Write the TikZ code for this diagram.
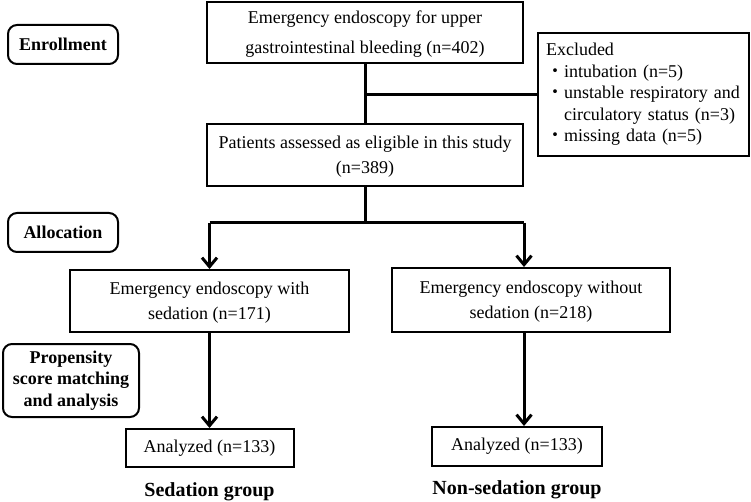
\documentclass[tikz,border=0pt]{standalone}
\usepackage{fontspec}
\setmainfont{Liberation Serif}
\newfontfamily\cjk{Noto Sans CJK JP}
\usepackage{tikz}
\usetikzlibrary{arrows.meta,calc,positioning}
\tikzset{
  >={Straight Barb[length=9pt,width=15pt]},
  stepbox/.style={rectangle, draw=black, line width=2pt, inner sep=0pt, align=center,
                  font=\fontsize{18}{25}\selectfont},
  lowtext/.style={text depth=-2pt},
  phasebox/.style={rectangle, rounded corners=9pt, draw=black, line width=2pt, inner sep=0pt,
                   align=center, font=\fontsize{18}{21.5}\selectfont\bfseries},
  grouplabel/.style={font=\fontsize{20}{24}\selectfont\bfseries},
  line/.style={draw, line width=3pt},
  arrowline/.style={draw, line width=3pt, ->}
}
\newcommand{\bul}{{\cjk ・}}
\newcommand{\bulgap}{\phantom{\bul}}

\begin{document}
\begin{tikzpicture}[x=1pt,y=-1pt]
      \useasboundingbox (0,0) rectangle (751,502);

      % Draw phase labels on the left.
      \node[phasebox, minimum width=110pt, minimum height=39pt] (enroll) at (63,44.5) {Enrollment};
      \node[phasebox, minimum width=110pt, minimum height=39pt] (alloc) at (63,232.5) {Allocation};
      \node[phasebox, minimum width=136pt, minimum height=73pt] (psm) at (71,380.5)
      {Propensity\\score matching\\and analysis};

      % Draw the flow boxes.
      \node[stepbox, lowtext, minimum width=316pt, minimum height=61pt,
            font=\fontsize{18}{30}\selectfont] (screen) at (365,32.5)
      {Emergency endoscopy for upper\\gastrointestinal bleeding (n=402)};
      \node[stepbox, lowtext, minimum width=316pt, minimum height=62pt] (elig) at (365,155)
      {Patients assessed as eligible in this study\\(n=389)};
      \node[stepbox, minimum width=211pt, minimum height=123pt, align=left,
            font=\fontsize{18}{21.5}\selectfont, text width=195pt] (excl) at (643.5,94.5)
      {Excluded\\
       \bul intubation (n=5)\\
       \bul unstable respiratory and\\
       \bulgap circulatory status (n=3)\\
       \bul missing data (n=5)};
      \node[stepbox, lowtext, minimum width=279pt, minimum height=62pt] (sed) at (209.5,301)
      {Emergency endoscopy with\\sedation (n=171)};
      \node[stepbox, lowtext, minimum width=278pt, minimum height=64pt] (nonsed) at (531,300)
      {Emergency endoscopy without\\sedation (n=218)};
      \node[stepbox, minimum width=168pt, minimum height=38pt] (anased) at (209.5,448)
      {Analyzed (n=133)};
      \node[stepbox, minimum width=170pt, minimum height=39pt] (ananon) at (517,446.5)
      {Analyzed (n=133)};

      % Label the two groups.
      \node[grouplabel] (sedlab) at (209.5,492) {Sedation group};
      \node[grouplabel] (nonlab) at (517,490) {Non-sedation group};

      % Draw connectors with exclusion branch.
      \draw[line] (screen.south) -- (elig.north);
      \draw[line] (screen.south |- excl.west) -- (excl.west);

      % Draw allocation split.
      \coordinate (split) at (365,223);
      \coordinate (splitl) at (sed.north |- split);
      \coordinate (splitr) at (elig.east |- split);
      \draw[line] (elig.south) -- (split);
      \draw[line] (splitl) -- (splitr);
      \draw[arrowline] (splitl) -- (sed.north);
      \draw[arrowline] (splitr) -- (splitr |- nonsed.north);

      % Draw arrows to analysis.
      \draw[arrowline] (sed.south) -- (anased.north);
      \draw[arrowline] (splitr |- nonsed.south) -- (splitr |- ananon.north);

    \end{tikzpicture}
\end{document}
